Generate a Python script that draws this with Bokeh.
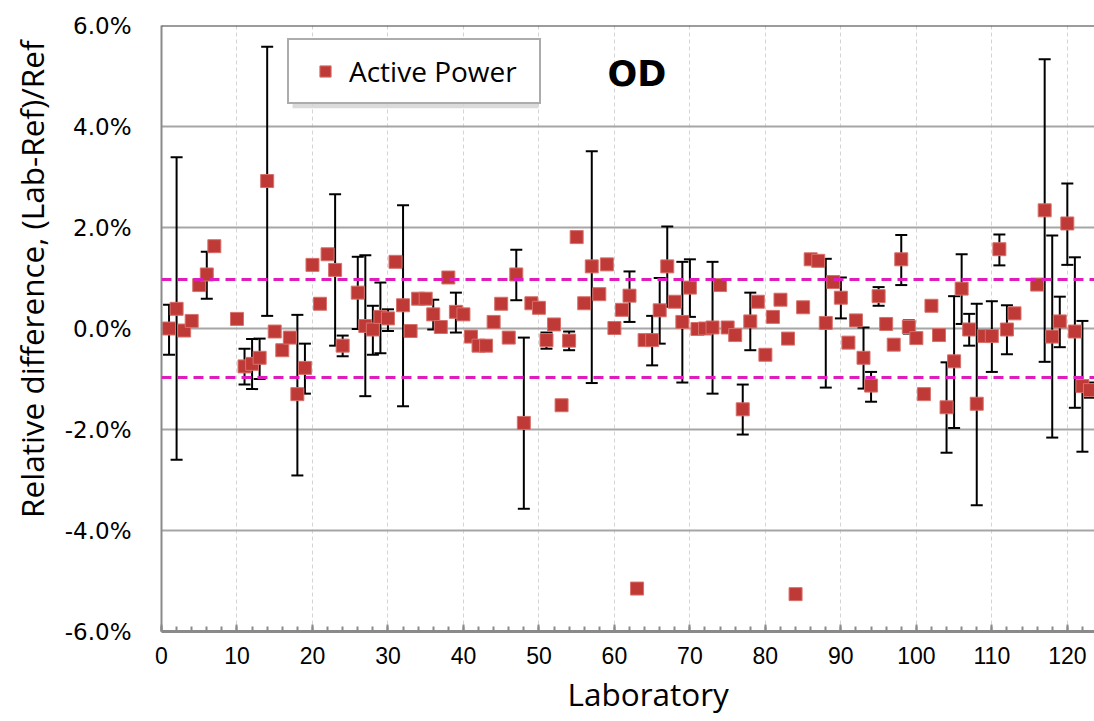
import math
from bokeh.plotting import figure
from bokeh.models import (ColumnDataSource, Whisker, TeeHead, Span, Label, Legend, Title,
                          LegendItem, BoxAnnotation, FixedTicker, PrintfTickFormatter, Range1d)
from bokeh.embed import file_html
from bokeh.resources import INLINE

# ---- data (relative difference in %) ----
labs = [1, 2, 3, 4, 5, 6, 7, 10, 11, 12, 13, 14, 15, 16, 17, 18, 19, 20, 21, 22, 23, 24,
        26, 27, 28, 29, 30, 31, 32, 33, 34, 35, 36, 37, 38, 39, 40, 41, 42, 43, 44, 45,
        46, 47, 48, 49, 50, 51, 52, 53, 54, 55, 56, 57, 58, 59, 60, 61, 62, 63, 64, 65,
        66, 67, 68, 69, 70, 71, 72, 73, 74, 75, 76, 77, 78, 79, 80, 81, 82, 83, 84, 85,
        86, 87, 88, 89, 90, 91, 92, 93, 94, 95, 96, 97, 98, 99, 100, 101, 102, 103, 104,
        105, 106, 107, 108, 109, 110, 111, 112, 113, 116, 117, 118, 119, 120, 121, 122, 123]
values = [0.00, 0.39, -0.04, 0.15, 0.86, 1.07, 1.63, 0.19, -0.75, -0.70, -0.58, 2.92, -0.06,
          -0.43, -0.18, -1.30, -0.78, 1.26, 0.49, 1.47, 1.16, -0.34,
          0.71, 0.05, -0.02, 0.23, 0.20, 1.32, 0.46, -0.05, 0.59, 0.59, 0.28, 0.03, 1.01,
          0.33, 0.28, -0.16, -0.34, -0.34, 0.13, 0.49,
          -0.18, 1.07, -1.87, 0.50, 0.41, -0.23, 0.08, -1.52, -0.24, 1.81, 0.50, 1.23, 0.68,
          1.27, 0.01, 0.37, 0.65, -5.15, -0.23, -0.23,
          0.36, 1.23, 0.53, 0.13, 0.81, -0.01, 0.00, 0.02, 0.86, 0.02, -0.13, -1.60, 0.14,
          0.53, -0.52, 0.23, 0.57, -0.20, -5.26, 0.42,
          1.37, 1.34, 0.11, 0.92, 0.61, -0.28, 0.16, -0.58, -1.13, 0.64, 0.09, -0.32, 1.37,
          0.03, -0.19, -1.30, 0.45, -0.13, -1.56,
          -0.65, 0.79, -0.02, -1.49, -0.15, -0.15, 1.57, -0.02, 0.30, 0.87, 2.34, -0.16, 0.14,
          2.08, -0.06, -1.14, -1.22]

# error bars (upper / lower limits, %)
err_labs = [1, 2, 6, 10, 11, 12, 13, 14, 18, 19, 23, 24, 26, 27, 28, 29, 30, 32, 36, 39, 47,
            48, 51, 54, 57, 62, 65, 66, 67, 69, 70, 73, 77, 78, 88, 90, 93, 94, 95, 98, 99,
            104, 105, 106, 107, 108, 110, 111, 112, 117, 118, 119, 120, 121, 122, 123]
err_hi = [0.47, 3.39, 1.52, 0.26, -0.40, -0.21, -0.20, 5.58, 0.27, -0.30, 2.66, -0.14, 1.42,
          1.45, 0.45, 0.91, 0.38, 2.44, 0.57, 0.71, 1.56,
          -0.18, -0.08, -0.06, 3.51, 1.13, 0.25, 1.00, 2.02, 1.32, 1.37, 1.32, -1.11, 0.71,
          1.38, 1.01, 0.02, -0.86, 0.82, 1.85, 0.16,
          -0.67, 0.64, 1.47, 0.29, 0.49, 0.54, 1.86, 0.46, 5.33, 1.84, 0.63, 2.87, 1.41, 0.15,
          -1.07]
err_lo = [-0.52, -2.60, 0.59, 0.11, -1.11, -1.20, -1.00, 0.25, -2.91, -1.29, -0.34, -0.55,
          -0.01, -1.34, -0.52, -0.49, -0.05, -1.54, -0.02, -0.08, 0.56,
          -3.57, -0.40, -0.43, -1.08, 0.13, -0.73, -0.30, 0.43, -1.07, 0.23, -1.29, -2.10,
          -0.43, -1.17, 0.20, -1.19, -1.45, 0.45, 0.86, -0.10,
          -2.46, -1.97, 0.09, -0.34, -3.50, -0.86, 1.25, -0.51, -0.66, -2.16, -0.37, 1.26,
          -1.57, -2.44, -1.37]

limit = 0.97           # tolerance band (%)
x_ticks = list(range(0, 121, 10))
y_ticks = [-6, -4, -2, 0, 2, 4, 6]
series_name = "Active Power"
chart_label = "OD"
x_title = "Laboratory"
y_title = "Relative difference, (Lab-Ref)/Ref"

# ---- figure ----
p = figure(width=1094, height=721, output_backend="svg", toolbar_location=None,
           x_range=Range1d(0, 123.6), y_range=Range1d(-6, 6),
           min_border_left=161, min_border_right=0, min_border_top=25, min_border_bottom=90)
p.outline_line_color = None
p.background_fill_color = "white"

# grids
p.xgrid.ticker = FixedTicker(ticks=x_ticks[1:])
p.xgrid.grid_line_color = "#d4d4d4"
p.xgrid.grid_line_dash = "4 3"
p.xgrid.grid_line_width = 1
p.ygrid.ticker = FixedTicker(ticks=y_ticks)
p.ygrid.grid_line_color = "#a6a6a6"
p.ygrid.grid_line_width = 2

# x axis
xa = p.xaxis[0]
xa.ticker = FixedTicker(ticks=x_ticks, minor_ticks=list(range(0, 124, 2)))
xa.axis_line_color = "#8a8a8a"
xa.axis_line_width = 3
xa.major_tick_in = 7
xa.major_tick_out = 0
xa.minor_tick_in = 5
xa.minor_tick_out = 0
xa.major_tick_line_color = "#8a8a8a"
xa.minor_tick_line_color = "#8a8a8a"
xa.major_tick_line_width = 2
xa.minor_tick_line_width = 2
xa.major_label_text_font = "Liberation Sans"
xa.major_label_text_font_size = "23px"
xa.major_label_text_color = "black"
xa.major_label_standoff = 15

# y axis
ya = p.yaxis[0]
ya.ticker = FixedTicker(ticks=y_ticks)
ya.formatter = PrintfTickFormatter(format="%.1f%%")
ya.axis_line_color = "#8a8a8a"
ya.axis_line_width = 2
ya.major_tick_in = 0
ya.major_tick_out = 0
ya.minor_tick_in = 0
ya.minor_tick_out = 0
ya.major_label_text_font = "DejaVu Sans"
ya.major_label_text_font_size = "23px"
ya.major_label_text_color = "black"
ya.major_label_standoff = 30

# top border
p.add_layout(Span(location=6, dimension="width", line_color="#3a3a3a", line_width=2))

# tolerance band
for loc in (limit, -limit):
    p.add_layout(Span(location=loc, dimension="width", line_color="#e01cc0",
                      line_width=3, line_dash="10 6"))

# error bars
esrc = ColumnDataSource(dict(x=err_labs, hi=err_hi, lo=err_lo))
wh = Whisker(base="x", upper="hi", lower="lo", source=esrc, dimension="height",
             line_color="black", line_width=2,
             upper_head=TeeHead(size=12, line_color="black", line_width=2),
             lower_head=TeeHead(size=12, line_color="black", line_width=2))
p.add_layout(wh)

# points
src = ColumnDataSource(dict(x=labs, y=values))
r = p.scatter("x", "y", source=src, marker="square", size=13,
              fill_color="#bf3a36", line_color="#d8706b", line_width=1)

# legend shadow
p.add_layout(BoxAnnotation(left=17.36, right=49.95, top=5.60, bottom=4.36,
                           fill_color="#d2d2d2", fill_alpha=0.8, line_color=None))

legend = Legend(items=[LegendItem(label=series_name, renderers=[r])],
                location=(126, 527), orientation="vertical")
legend.border_line_color = "#5a5a5a"
legend.border_line_width = 2
legend.background_fill_color = "white"
legend.background_fill_alpha = 1
legend.label_text_font = "Open Sans"
legend.label_text_font_size = "28px"
legend.label_text_color = "black"
legend.label_text_line_height = 0.95
legend.padding = 12
legend.margin = 0
legend.glyph_width = 48
legend.glyph_height = 28
legend.label_height = 28
legend.label_width = 178
legend.label_standoff = 0
legend.spacing = 0
p.add_layout(legend)

# chart tag
p.add_layout(Label(x=59.1, y=5.04, text=chart_label, text_font="DejaVu Sans",
                   text_font_style="bold", text_font_size="35px", text_color="black",
                   text_align="left", text_baseline="middle"))

# axis titles
p.add_layout(Title(text=y_title, align="right", offset=15, text_font="Open Sans",
                   text_font_size="31.5px", text_font_style="normal", text_color="black",
                   vertical_align="top", standoff=14), "left")
p.add_layout(Title(text=x_title, align="left", offset=406, text_font="Open Sans",
                   text_font_size="31.5px", text_font_style="normal", text_color="black",
                   standoff=6), "below")

open("out.html", "w").write(file_html(p, INLINE))
